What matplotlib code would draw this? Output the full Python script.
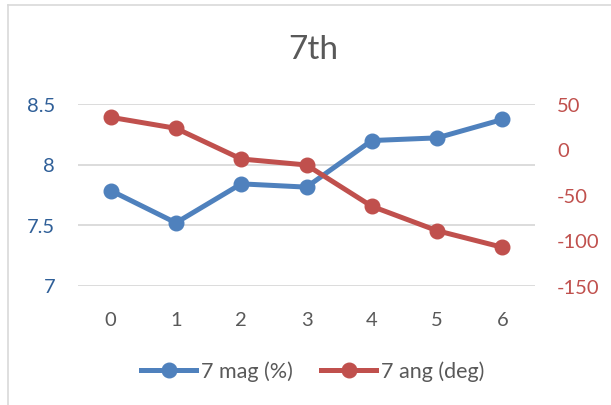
import matplotlib
matplotlib.use("Agg")
import matplotlib.pyplot as plt
from matplotlib.lines import Line2D

plt.rcParams['font.family'] = ['Lato', 'DejaVu Sans']

# Data
categories = [0, 1, 2, 3, 4, 5, 6]
mag_pct = [7.785, 7.518, 7.84, 7.813, 8.198, 8.22, 8.372]
ang_deg = [35.4, 23.2, -10.6, -17.2, -62.7, -89.6, -107.9]
left_ticks = [7, 7.5, 8, 8.5]
left_labels = ["7", "7.5", "8", "8.5"]
right_ticks = [-150, -100, -50, 0, 50]
series_names = ["7 mag (%)", "7 ang (deg)"]
title = "7th"

BLUE = "#4F81BD"
RED = "#C0504D"
GRAY = "#595959"
GRID = "#D9D9D9"

fig = plt.figure(figsize=(6.11, 4.06), dpi=100)
ax = fig.add_axes([78 / 611, 1 - 286.5 / 406, (535 - 78) / 611, (286.5 - 105) / 406])
ax2 = ax.twinx()

ax.plot(categories, mag_pct, color=BLUE, lw=3.6, marker="o", ms=10.5, zorder=3)
ax2.plot(categories, ang_deg, color=RED, lw=3.6, marker="o", ms=10.5, zorder=3)

ax.set_xlim(-0.5, 6.5)
ax.set_ylim(7, 8.5)
ax2.set_ylim(-150, 50)

ax.set_xticks(categories)
ax.set_xticklabels([str(c) for c in categories])
ax.set_yticks(left_ticks)
ax.set_yticklabels(left_labels)
ax2.set_yticks(right_ticks)
ax2.set_yticklabels([str(t) for t in right_ticks])

ax.yaxis.grid(True, color=GRID, lw=1.3)
ax.set_axisbelow(True)

for a in (ax, ax2):
    for s in a.spines.values():
        s.set_visible(False)

ax.tick_params(axis="x", length=0, pad=18, labelsize=14.5, labelcolor=GRAY)
ax.tick_params(axis="y", length=0, pad=16.5, labelsize=14.5, labelcolor="#2F5F98")
ax2.tick_params(axis="y", length=0, pad=16, labelsize=14.5, labelcolor=RED)

fig.text(313 / 611, 1 - 50 / 406, title, ha="center", va="center",
         fontsize=24, color=GRAY)

handles = [Line2D([], [], color=BLUE, lw=3.6, marker="o", ms=10.5),
           Line2D([], [], color=RED, lw=3.6, marker="o", ms=10.5)]
leg = fig.legend(handles, series_names, loc="center",
                 bbox_to_anchor=(313 / 611, 1 - 372 / 406), ncol=2,
                 frameon=False, fontsize=15.5, handlelength=2.56,
                 handletextpad=0.23, columnspacing=1.3, labelcolor=GRAY)

# chart border
fig.add_artist(Line2D([8 / 611, 1], [1 - 6 / 406, 1 - 6 / 406],
                      transform=fig.transFigure, color=GRID, lw=1.2))
fig.add_artist(Line2D([8 / 611, 8 / 611], [0, 1 - 6 / 406],
                      transform=fig.transFigure, color=GRID, lw=1.2))

fig.savefig("out.png", dpi=100)
